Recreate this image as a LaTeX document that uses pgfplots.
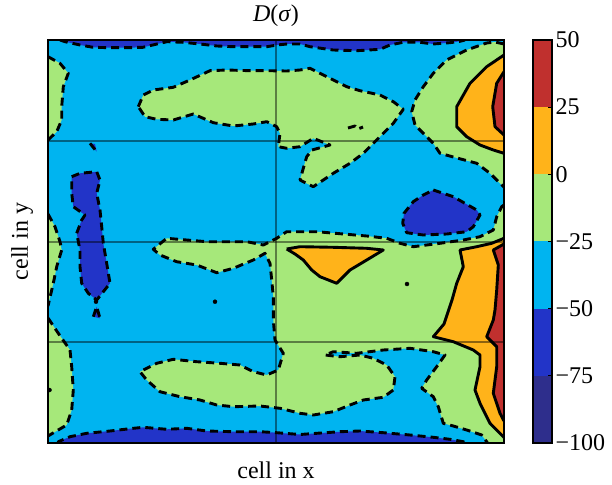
\documentclass[border=0pt]{standalone}
\usepackage{pgfplots}
\pgfplotsset{compat=1.18}
\usepackage{fontspec}
\setmainfont{Liberation Serif}
\definecolor{cnavy}{RGB}{46,46,140}
\definecolor{cblue}{RGB}{34,52,200}
\definecolor{ccyan}{RGB}{0,180,240}
\definecolor{cgreen}{RGB}{166,232,122}
\definecolor{corange}{RGB}{255,179,26}
\definecolor{cred}{RGB}{192,48,46}
\newcommand{\bigf}{\fontsize{24}{28}\selectfont}
\begin{document}
\begin{tikzpicture}[
  dl/.style={black, line width=2.9pt, dash pattern=on 8pt off 5pt, line join=round},
  sl/.style={black, line width=2.9pt, line join=round},
]
\useasboundingbox (0,0) rectangle (612pt,484pt);
\begin{axis}[
  at={(48pt,41pt)}, anchor=south west,
  scale only axis, width=456pt, height=403pt,
  xmin=48, xmax=504, ymin=40, ymax=443, y dir=reverse,
  xtick={276}, ytick={141,242,342}, xticklabels={}, yticklabels={},
  major tick length=0pt,
  grid=major, major grid style={black, opacity=0.45, line width=1.4pt},
  axis on top, axis line style={black, line width=1.4pt},
  title={\textit{D}(\textit{σ})},
  title style={font=\bigf, at={(axis description cs:0.5,1.0298)}, anchor=base},
  xlabel={cell in x},
  xlabel style={font=\bigf, at={(axis description cs:0.5,-0.0893)}, anchor=base},
  ylabel={cell in y},
  ylabel style={font=\bigf, at={(axis description cs:-0.0439,0.5)}, anchor=base},
]
% background level -50..-25
\addplot[fill=ccyan, draw=none] coordinates {(48,40)(504,40)(504,443)(48,443)};
% left green patches
\addplot[fill=cgreen, draw=none] coordinates {(48,56.7)(60,63.3)(68.3,73.3)(63.3,86.7)(61.7,106.7)(61.7,120)(56.7,131.7)(48,140)};
\addplot[fill=cgreen, draw=none] coordinates {(48,214)(55,226.7)(60,241.7)(61.7,250)(56.7,266.7)(53.3,283.3)(48,306)};
\addplot[fill=cgreen, draw=none] coordinates {(48,318)(58.3,333.3)(70,350)(71.7,366.7)(73.3,390)(71.7,410)(66.7,425)(48,436)};
% top middle green blob
\addplot[fill=cgreen, draw=none] coordinates {(138.3,106.7)(143.3,95)(153.3,90)(173.3,87.3)(190,80)(210,70.7)(226.7,70)(250,70.7)(266.7,70.7)(286.7,71)(300,70)(310,68.3)(326.7,76.7)(346.7,86.7)(360,90.7)(380,95)(393.3,101.7)(403.3,109.3)(393.3,123.3)(383.3,133.3)(370,146.7)(363.3,153.3)(350,163.3)(333.3,173.3)(313.3,186.7)(300,180)(303.3,168.3)(306.7,156.7)(312,150)(330,145)(313.3,138.3)(300,146.7)(286.7,148.3)(278.3,146.7)(280,133.3)(276.7,126.7)(266.7,121.7)(253.3,124)(233.3,126)(213.3,122.7)(193.3,114)(173.3,120)(156.7,119.3)(145,116.7)};
% upper right green
\addplot[fill=cgreen, draw=none] coordinates {(504,44)(495,42)(486.7,43)(466.7,50)(446.7,60)(433.3,73.3)(423.3,86.7)(415,100)(411.7,111.7)(415,125)(423.3,133.3)(433.3,143.3)(440,153.3)(453.3,157)(476.7,163.3)(490,173.3)(500,183.3)(504,187)};
% big lower green
\addplot[fill=cgreen, draw=none] coordinates {(504,205)(501.7,206.7)(496.7,216.7)(493.3,230)(480,236.7)(463.3,240)(440,243.3)(413.3,246.7)(400,243.3)(386.7,238.3)(366.7,236)(343.3,234)(316.7,231.7)(300,231.7)(286.7,231.7)(276.7,238.3)(263.3,245)(246.7,241.7)(226.7,241.7)(206.7,241.7)(186.7,240)(166.7,238.3)(153.3,249.3)(160,255)(176.7,261.7)(196.7,265)(216.7,272.7)(233.3,268.3)(253.3,260)(265,253.3)(270,263.3)(271.7,280)(273.3,296.7)(273.3,320)(275,340)(283.3,353.3)(278.3,370)(266.7,375)(253.3,371.7)(240,365)(220,363.3)(196.7,361.7)(173.3,359.3)(156.7,363.3)(140,371.7)(146.7,380)(160,391.7)(180,396.7)(200,400)(216.7,405)(233.3,406.7)(260,406)(280,408.3)(300,413.3)(313.3,415)(333.3,411.7)(350,405)(363.3,400)(383.3,397.3)(393.3,390)(395,376.7)(386.7,365)(373.3,358.3)(360,355)(340,356.7)(325,355)(333.3,351.7)(356.7,353.3)(383.3,350)(410,348.3)(433.3,351.7)(445,355)(436.7,366.7)(426.7,380)(421.7,388.3)(433.3,396.7)(438.3,406.7)(443.3,423.3)(453.3,426)(466.7,430)(481.7,435)(486.7,441.7)(488,444)(504,444)};
% orange and red
\addplot[fill=corange, draw=none] coordinates {(504,55)(486.7,66.7)(470,83.3)(456.7,106.7)(456.7,126.7)(466.7,136.7)(480,145)(493.3,150)(504,153.3)};
\addplot[fill=cred, draw=none] coordinates {(504,71.7)(496.7,83.3)(492.7,106.7)(495,126.7)(504,135)};
\addplot[fill=corange, draw=none] coordinates {(504,238.3)(491.7,243.3)(476.7,246.7)(460,250)(463.3,266.7)(456.7,283.3)(452,300)(448,312)(444,324)(433.3,336.7)(453.3,341.7)(473.3,350)(480,355)(480,366.7)(475,390)(480,403.3)(490,423.3)(503.3,436.7)(504,437.5)};
\addplot[fill=cred, draw=none] coordinates {(504,244)(493.3,250)(498.3,265)(496.7,290)(495,310)(493.3,320)(486.7,336.7)(496.7,346.7)(496.7,366.7)(493.3,393.3)(500,413.3)(504,421)};
\addplot[fill=corange, draw=none] coordinates {(286.7,249)(300,246.7)(333.3,247.3)(366.7,248.3)(383.3,250)(366.7,260)(350,270)(336.7,283.3)(320,276.7)(311.7,270)(303.3,260)(295,254)};
% blue regions
\addplot[fill=cblue, draw=none] coordinates {(60,40)(65,41.7)(80,45)(93,47.3)(110,47.7)(127,47.7)(143,47.3)(157,44)(167,41.7)(183,42.3)(200,44)(217,46)(233,46.7)(253,46.7)(267,46.7)(277,45)(287,44)(300,44)(310,46.7)(333,50)(357,50.7)(380,49.3)(390,45)(403,42.3)(420,42.3)(433,44)(450,42.7)(460,41.3)(465,40)};
\addplot[fill=cblue, draw=none] coordinates {(58,444)(58.3,441.7)(70,436.7)(86.7,433.3)(110,431)(133.3,428.3)(143.3,427.3)(166.7,429.3)(186.7,428.3)(206.7,431)(233.3,431.7)(260,431.7)(276.7,432.7)(300,434.5)(316.7,433.3)(340,431.7)(360,431)(383.3,432.7)(410,435)(433.3,437.3)(450,439.3)(463.3,441.7)(466.7,444)};
\addplot[fill=cblue, draw=none] coordinates {(433.3,190)(453.3,196.7)(476.7,210)(480,215)(473.3,226.7)(466.7,231.7)(446.7,234)(423.3,235)(406.7,232.7)(402.7,223.3)(404,213.3)(413.3,201.7)(423.3,195)};
\addplot[fill=cblue, draw=none] coordinates {(71.7,176.7)(80,173.3)(96.7,171.7)(100,180)(96.7,193.3)(100,210)(101.7,226.7)(103.3,243.3)(106.7,263.3)(110,283.3)(96.7,300)(88.3,293.3)(81.7,283.3)(80,266.7)(80,250)(76.7,233.3)(81.7,220)(85,215)(73.3,206.7)(71.7,193.3)};
\addplot[fill=cblue, draw=none] coordinates {(93.3,316.7)(100,318.3)(96.7,306.7)};
\addplot[fill=cblue, draw=none] coordinates {(90,143.3)(96.7,151.7)(95,144)};
% contour lines, negative levels dashed
\addplot[dl] coordinates {(60,40)(65,41.7)(80,45)(93,47.3)(110,47.7)(127,47.7)(143,47.3)(157,44)(167,41.7)(183,42.3)(200,44)(217,46)(233,46.7)(253,46.7)(267,46.7)(277,45)(287,44)(300,44)(310,46.7)(333,50)(357,50.7)(380,49.3)(390,45)(403,42.3)(420,42.3)(433,44)(450,42.7)(460,41.3)(465,40)};
\addplot[dl] coordinates {(58,444)(58.3,441.7)(70,436.7)(86.7,433.3)(110,431)(133.3,428.3)(143.3,427.3)(166.7,429.3)(186.7,428.3)(206.7,431)(233.3,431.7)(260,431.7)(276.7,432.7)(300,434.5)(316.7,433.3)(340,431.7)(360,431)(383.3,432.7)(410,435)(433.3,437.3)(450,439.3)(463.3,441.7)(466.7,444)};
\addplot[dl] coordinates {(48,56.7)(60,63.3)(68.3,73.3)(63.3,86.7)(61.7,106.7)(61.7,120)(56.7,131.7)(48,140)};
\addplot[dl] coordinates {(48,214)(55,226.7)(60,241.7)(61.7,250)(56.7,266.7)(53.3,283.3)(48,306)};
\addplot[dl] coordinates {(48,318)(58.3,333.3)(70,350)(71.7,366.7)(73.3,390)(71.7,410)(66.7,425)(48,436)};
\addplot[dl] coordinates {(138.3,106.7)(143.3,95)(153.3,90)(173.3,87.3)(190,80)(210,70.7)(226.7,70)(250,70.7)(266.7,70.7)(286.7,71)(300,70)(310,68.3)(326.7,76.7)(346.7,86.7)(360,90.7)(380,95)(393.3,101.7)(403.3,109.3)(393.3,123.3)(383.3,133.3)(370,146.7)(363.3,153.3)(350,163.3)(333.3,173.3)(313.3,186.7)(300,180)(303.3,168.3)(306.7,156.7)(312,150)(330,145)(313.3,138.3)(300,146.7)(286.7,148.3)(278.3,146.7)(280,133.3)(276.7,126.7)(266.7,121.7)(253.3,124)(233.3,126)(213.3,122.7)(193.3,114)(173.3,120)(156.7,119.3)(145,116.7)(138.3,106.7)};
\addplot[dl] coordinates {(504,44)(495,42)(486.7,43)(466.7,50)(446.7,60)(433.3,73.3)(423.3,86.7)(415,100)(411.7,111.7)(415,125)(423.3,133.3)(433.3,143.3)(440,153.3)(453.3,157)(476.7,163.3)(490,173.3)(500,183.3)(504,187)};
\addplot[dl] coordinates {(504,205)(501.7,206.7)(496.7,216.7)(493.3,230)(480,236.7)(463.3,240)(440,243.3)(413.3,246.7)(400,243.3)(386.7,238.3)(366.7,236)(343.3,234)(316.7,231.7)(300,231.7)(286.7,231.7)(276.7,238.3)(263.3,245)(246.7,241.7)(226.7,241.7)(206.7,241.7)(186.7,240)(166.7,238.3)(153.3,249.3)(160,255)(176.7,261.7)(196.7,265)(216.7,272.7)(233.3,268.3)(253.3,260)(265,253.3)(270,263.3)(271.7,280)(273.3,296.7)(273.3,320)(275,340)(283.3,353.3)(278.3,370)(266.7,375)(253.3,371.7)(240,365)(220,363.3)(196.7,361.7)(173.3,359.3)(156.7,363.3)(140,371.7)(146.7,380)(160,391.7)(180,396.7)(200,400)(216.7,405)(233.3,406.7)(260,406)(280,408.3)(300,413.3)(313.3,415)(333.3,411.7)(350,405)(363.3,400)(383.3,397.3)(393.3,390)(395,376.7)(386.7,365)(373.3,358.3)(360,355)(340,356.7)(325,355)(333.3,351.7)(356.7,353.3)(383.3,350)(410,348.3)(433.3,351.7)(445,355)(436.7,366.7)(426.7,380)(421.7,388.3)(433.3,396.7)(438.3,406.7)(443.3,423.3)(453.3,426)(466.7,430)(481.7,435)(486.7,441.7)(488,444)};
\addplot[dl] coordinates {(433.3,190)(453.3,196.7)(476.7,210)(480,215)(473.3,226.7)(466.7,231.7)(446.7,234)(423.3,235)(406.7,232.7)(402.7,223.3)(404,213.3)(413.3,201.7)(423.3,195)(433.3,190)};
\addplot[dl] coordinates {(71.7,176.7)(80,173.3)(96.7,171.7)(100,180)(96.7,193.3)(100,210)(101.7,226.7)(103.3,243.3)(106.7,263.3)(110,283.3)(96.7,300)(88.3,293.3)(81.7,283.3)(80,266.7)(80,250)(76.7,233.3)(81.7,220)(85,215)(73.3,206.7)(71.7,193.3)(71.7,176.7)};
\addplot[dl] coordinates {(93.3,316.7)(96.7,306.7)(100,318.3)};
\addplot[dl] coordinates {(90,143.3)(96.7,151.7)};
\addplot[dl] coordinates {(348,128)(355,126)(358,129)(363,127)};
% levels 0 and 25, solid
\addplot[sl] coordinates {(504,55)(486.7,66.7)(470,83.3)(456.7,106.7)(456.7,126.7)(466.7,136.7)(480,145)(493.3,150)(504,153.3)};
\addplot[sl] coordinates {(504,71.7)(496.7,83.3)(492.7,106.7)(495,126.7)(504,135)};
\addplot[sl] coordinates {(504,238.3)(491.7,243.3)(476.7,246.7)(460,250)(463.3,266.7)(456.7,283.3)(452,300)(448,312)(444,324)(433.3,336.7)(453.3,341.7)(473.3,350)(480,355)(480,366.7)(475,390)(480,403.3)(490,423.3)(503.3,436.7)(504,437.5)};
\addplot[sl] coordinates {(504,244)(493.3,250)(498.3,265)(496.7,290)(495,310)(493.3,320)(486.7,336.7)(496.7,346.7)(496.7,366.7)(493.3,393.3)(500,413.3)(504,421)};
\addplot[sl] coordinates {(286.7,249)(300,246.7)(333.3,247.3)(366.7,248.3)(383.3,250)(366.7,260)(350,270)(336.7,283.3)(320,276.7)(311.7,270)(303.3,260)(295,254)(286.7,249)};
\addplot[only marks, mark=*, mark size=2pt, black] coordinates {(96,301.7)(215,301.7)(407,284)(49.5,390)};
\end{axis}
% colour bar
\begin{axis}[
  at={(533pt,41pt)}, anchor=south west,
  scale only axis, width=19pt, height=403pt,
  xmin=0, xmax=1, ymin=-100, ymax=50,
  xtick=\empty,
  ytick={-100,-75,-50,-25,0,25,50},
  yticklabels={−100,−75,−50,−25,0,25,50},
  ytick pos=right, yticklabel pos=right,
  tick align=inside, major tick length=4pt,
  tick style={black, line width=0.8pt},
  yticklabel style={font=\bigf, anchor=west},
  axis on top, axis line style={black, line width=1.4pt},
]
\addplot[fill=cnavy, draw=none] coordinates {(0,-100)(1,-100)(1,-75)(0,-75)};
\addplot[fill=cblue, draw=none] coordinates {(0,-75)(1,-75)(1,-50)(0,-50)};
\addplot[fill=ccyan, draw=none] coordinates {(0,-50)(1,-50)(1,-25)(0,-25)};
\addplot[fill=cgreen, draw=none] coordinates {(0,-25)(1,-25)(1,0)(0,0)};
\addplot[fill=corange, draw=none] coordinates {(0,0)(1,0)(1,25)(0,25)};
\addplot[fill=cred, draw=none] coordinates {(0,25)(1,25)(1,50)(0,50)};
\end{axis}
\end{tikzpicture}
\end{document}
